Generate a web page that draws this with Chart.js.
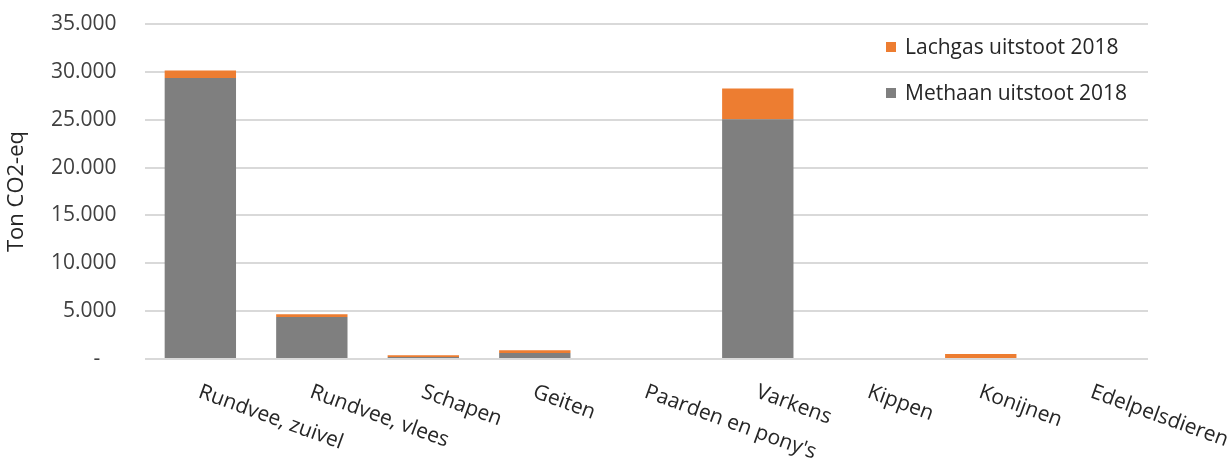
<!DOCTYPE html>
<html>
<head>
<meta charset="utf-8">
<script src="https://cdn.jsdelivr.net/npm/chart.js@4/dist/chart.umd.min.js"></script>
<style>
  html, body { margin: 0; padding: 0; background: #ffffff; }
  #wrap { width: 1232px; height: 459px; position: relative; }
</style>
</head>
<body>
<div id="wrap"><canvas id="c" width="1232" height="459"></canvas></div>
<script>
const categories = ["Rundvee, zuivel", "Rundvee, vlees", "Schapen", "Geiten", "Paarden en pony's", "Varkens", "Kippen", "Konijnen", "Edelpelsdieren"];
const methaan = [29350, 4400, 200, 620, 0, 25050, 0, 0, 0];
const lachgas = [800, 280, 200, 290, 0, 3200, 0, 520, 0];
const yTicks = [0, 5000, 10000, 15000, 20000, 25000, 30000, 35000];
const seriesNames = ["Methaan uitstoot 2018", "Lachgas uitstoot 2018"];
const yTitle = "Ton CO2-eq";

const FONT = "'Open Sans', 'DejaVu Sans', sans-serif";
const GRAY = '#7f7f7f';
const ORANGE = '#ed7d31';
const TEXT = '#262626';

function fmt(v) {
  if (v === 0) return '-   ';
  return String(v).replace(/\B(?=(\d{3})+(?!\d))/g, '.');
}

const rotatedLabels = {
  id: 'rotatedLabels',
  afterDraw(chart) {
    const ctx = chart.ctx;
    const xs = chart.scales.x;
    const area = chart.chartArea;
    const ang = 20 * Math.PI / 180;
    ctx.save();
    ctx.font = "21px " + FONT;
    ctx.fillStyle = TEXT;
    ctx.textAlign = 'left';
    ctx.textBaseline = 'alphabetic';
    chart.data.labels.forEach((lab, i) => {
      const x = xs.getPixelForValue(i) - 3;
      const y = area.bottom + 38;
      ctx.save();
      ctx.translate(x, y);
      ctx.rotate(ang);
      ctx.fillText(lab, 0, 0);
      ctx.restore();
    });
    ctx.restore();
  }
};

const innerLegend = {
  id: 'innerLegend',
  afterDraw(chart) {
    const ctx = chart.ctx;
    const ds = chart.data.datasets;
    const items = [ds[1], ds[0]];
    const rows = [47, 93];
    ctx.save();
    ctx.font = "21px " + FONT;
    ctx.textAlign = 'left';
    ctx.textBaseline = 'middle';
    items.forEach((d, k) => {
      ctx.fillStyle = d.backgroundColor;
      ctx.fillRect(886, rows[k] - 5, 10, 10);
      ctx.fillStyle = TEXT;
      ctx.fillText(d.label, 905, rows[k] + 1);
    });
    ctx.restore();
  }
};

new Chart(document.getElementById('c'), {
  type: 'bar',
  data: {
    labels: categories,
    datasets: [
      { label: seriesNames[0], data: methaan, backgroundColor: GRAY, stack: 's' },
      { label: seriesNames[1], data: lachgas, backgroundColor: ORANGE, stack: 's' }
    ]
  },
  options: {
    responsive: false,
    animation: false,
    devicePixelRatio: 1,
    layout: { padding: { left: 0, right: 84, top: 24, bottom: 100 } },
    datasets: { bar: { categoryPercentage: 1, barPercentage: 0.64 } },
    plugins: {
      legend: { display: false },
      tooltip: { enabled: false }
    },
    scales: {
      x: {
        stacked: true,
        grid: { display: false },
        border: { display: false },
        ticks: { display: false },
        afterFit(s) { s.height = 0; s.paddingLeft = 0; s.paddingRight = 0; }
      },
      y: {
        stacked: true,
        min: 0,
        max: 35000,
        afterBuildTicks(s) { s.ticks = yTicks.map(v => ({ value: v })); },
        afterFit(s) { s.width = 144.6; s.paddingTop = 0; s.paddingBottom = 0; },
        grid: { color: '#d9d9d9', lineWidth: 2, drawTicks: false },
        border: { display: false },
        ticks: {
          padding: 28,
          color: '#404040',
          font: { family: FONT, size: 21 },
          callback: (v) => fmt(v)
        },
        title: {
          display: true,
          text: yTitle,
          color: TEXT,
          font: { family: FONT, size: 22 },
          padding: { top: 4, bottom: 0 }
        }
      }
    }
  },
  plugins: [rotatedLabels, innerLegend]
});
</script>
</body>
</html>
